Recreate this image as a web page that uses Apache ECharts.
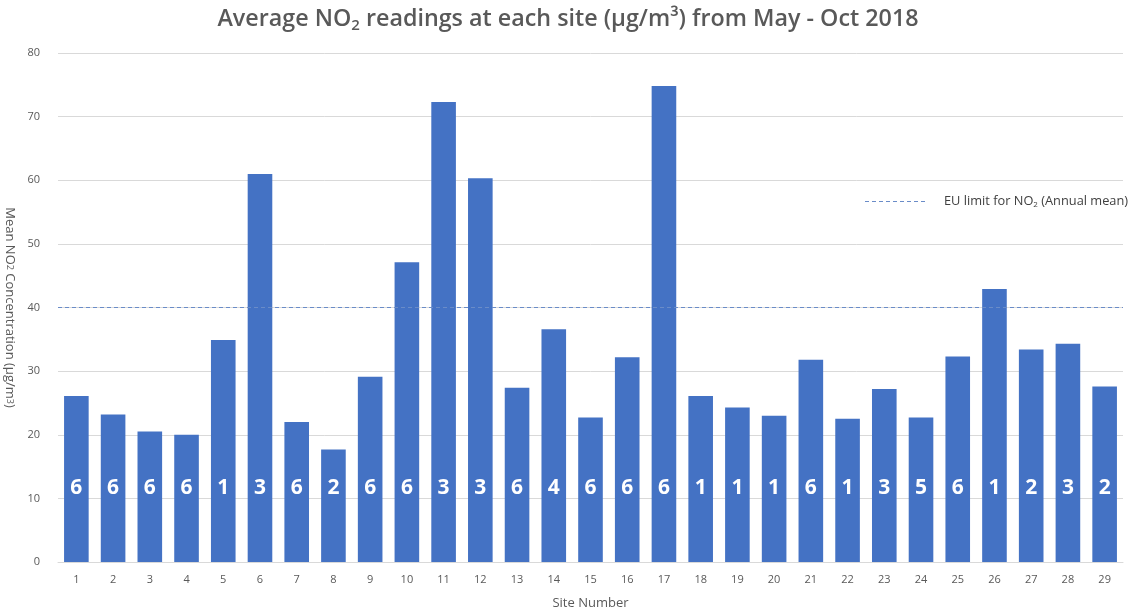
<!DOCTYPE html>
<html>
<head>
<meta charset="utf-8">
<script src="https://cdn.jsdelivr.net/npm/echarts@6/dist/echarts.min.js"></script>
<style>
  html, body { margin: 0; padding: 0; background: #fff; }
  #chart { width: 1136px; height: 612px; }
</style>
</head>
<body>
<div id="chart"></div>
<script>
const sites = ["1","2","3","4","5","6","7","8","9","10","11","12","13","14","15","16","17","18","19","20","21","22","23","24","25","26","27","28","29"];
const meanNO2 = [26.1, 23.2, 20.5, 20.0, 34.9, 61.0, 22.0, 17.7, 29.1, 47.1, 72.3, 60.3, 27.4, 36.6, 22.7, 32.2, 74.8, 26.1, 24.3, 23.0, 31.8, 22.5, 27.2, 22.7, 32.3, 42.9, 33.4, 34.3, 27.6];
const barLabels = [6, 6, 6, 6, 1, 3, 6, 2, 6, 6, 3, 3, 6, 4, 6, 6, 6, 1, 1, 1, 6, 1, 3, 5, 6, 1, 2, 3, 2];
const euLimit = 40;
const yTicks = [0, 10, 20, 30, 40, 50, 60, 70, 80];

const FONT = "'Open Sans', 'DejaVu Sans', sans-serif";
const GREY = "#595959";
const LIMIT_COLOR = "#6a8cc8";

const chart = echarts.init(document.getElementById("chart"));

// dashed legend icon, 60 wide
const dashIcon = "path://" + [0, 7, 14, 21, 28, 35, 42, 49, 56]
  .map((x) => `M${x},0 L${x + 4},0 L${x + 4},1 L${x},1 Z`).join(" ");

const option = {
  animation: false,
  backgroundColor: "#fff",
  title: {
    text: "Average NO{sub|2} readings at each site (µg/m³) from May - Oct 2018",
    left: "center",
    top: 1,
    textStyle: {
      fontFamily: FONT,
      fontSize: 23.3,
      fontWeight: 600,
      color: GREY,
      rich: {
        sub: { fontFamily: FONT, fontSize: 15, fontWeight: 600, color: GREY, padding: [12, 0, 0, 0] },
      },
    },
  },
  legend: {
    left: 860,
    top: 190,
    itemWidth: 60,
    itemHeight: 12,
    itemGap: 10,
    textStyle: {
      fontFamily: FONT,
      fontSize: 12.8,
      color: "#404040",
      padding: [0, 0, 0, 14],
      rich: {
        sub: { fontFamily: FONT, fontSize: 8, color: "#404040", padding: [6, 0, 0, 0] },
      },
    },
    formatter: () => "EU limit for NO{sub|2} (Annual mean)",
    data: [{ name: "EU limit", icon: dashIcon, itemStyle: { color: LIMIT_COLOR } }],
  },
  grid: { left: 58, right: 13, top: 53, bottom: 50, outerBoundsMode: "none", containLabel: false },
  xAxis: {
    type: "category",
    data: sites,
    name: "Site Number",
    nameLocation: "middle",
    nameGap: 35,
    nameTextStyle: { fontFamily: FONT, fontSize: 13, color: GREY },
    axisLine: { lineStyle: { color: "#d9d9d9" } },
    axisTick: { show: false },
    axisLabel: { fontFamily: FONT, fontSize: 11, color: GREY, margin: 12 },
  },
  yAxis: {
    type: "value",
    min: yTicks[0],
    max: yTicks[yTicks.length - 1],
    interval: 10,
    name: "Mean NO{sub|2} Concentration (µg/m{sup|3})",
    nameLocation: "middle",
    nameRotate: -90,
    nameGap: 37,
    nameTextStyle: {
      fontFamily: FONT,
      fontSize: 13,
      color: GREY,
      rich: {
        sub: { fontFamily: FONT, fontSize: 9, color: GREY },
        sup: { fontFamily: FONT, fontSize: 9, color: GREY },
      },
    },
    axisLine: { show: false },
    axisTick: { show: false },
    axisLabel: { fontFamily: FONT, fontSize: 11, color: GREY, margin: 18 },
    splitLine: { lineStyle: { color: "#d9d9d9", width: 1 } },
  },
  series: [
    {
      name: "Mean NO2",
      type: "bar",
      data: meanNO2,
      barCategoryGap: "33%",
      itemStyle: { color: "#4472c4" },
      label: {
        show: true,
        position: "insideBottom",
        distance: 63,
        fontFamily: FONT,
        fontSize: 21,
        fontWeight: "bold",
        color: "#fff",
        formatter: (p) => String(barLabels[p.dataIndex]),
      },
    },
    {
      name: "EU limit",
      type: "line",
      data: [],
      symbol: "none",
      itemStyle: { color: LIMIT_COLOR },
      lineStyle: { color: LIMIT_COLOR, type: [4, 3], width: 1 },
      markLine: {
        silent: true,
        symbol: "none",
        label: { show: false },
        lineStyle: { color: LIMIT_COLOR, type: [4, 3], width: 1.2, opacity: 1 },
        data: [{ yAxis: euLimit }],
      },
    },
  ],
};

chart.setOption(option);
</script>
</body>
</html>
